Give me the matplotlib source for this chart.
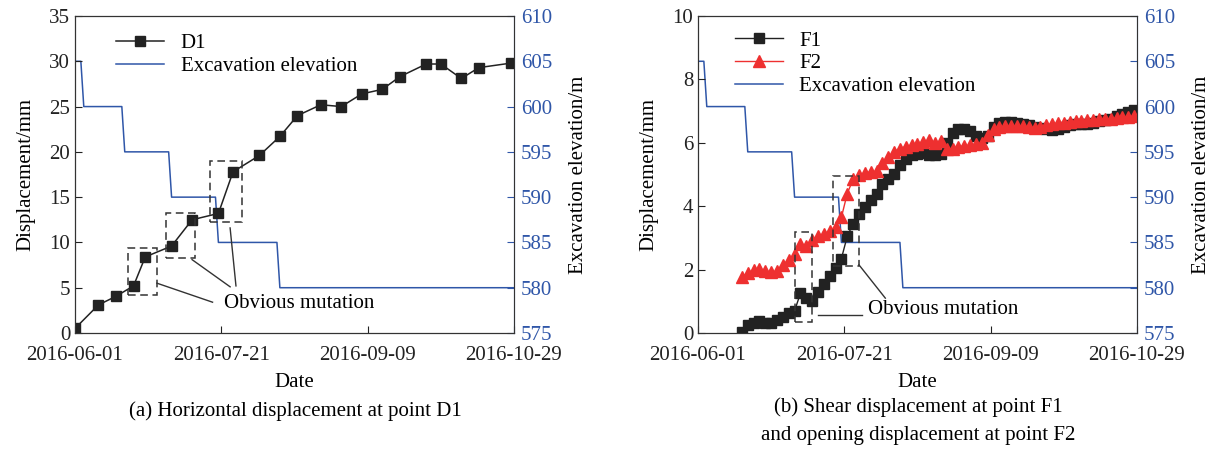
import numpy as np
import pandas as pd
import matplotlib
matplotlib.use("Agg")
import matplotlib.pyplot as plt
import matplotlib.dates as mdates
from matplotlib.patches import Rectangle

plt.rcParams["font.family"] = ["Liberation Serif", "DejaVu Serif"]
plt.rcParams["font.size"] = 15

# ---- data ----
d1_dates = ["2016-06-01", "2016-06-09", "2016-06-15", "2016-06-21", "2016-06-25",
            "2016-07-04", "2016-07-11", "2016-07-20", "2016-07-25", "2016-08-03",
            "2016-08-10", "2016-08-16", "2016-08-24", "2016-08-31", "2016-09-07",
            "2016-09-14", "2016-09-20", "2016-09-29", "2016-10-04", "2016-10-11",
            "2016-10-17", "2016-10-28"]
d1_vals = [0.5, 3.1, 4.05, 5.2, 8.4, 9.6, 12.5, 13.2, 17.8, 19.6, 21.7, 24.0,
           25.2, 25.0, 26.4, 26.9, 28.3, 29.7, 29.7, 28.1, 29.3, 29.8]

elev_dates = ["2016-06-01", "2016-06-03", "2016-06-04", "2016-06-17", "2016-06-18",
              "2016-07-03", "2016-07-04", "2016-07-19", "2016-07-20", "2016-08-09",
              "2016-08-10", "2016-10-29"]
elev_vals = [605, 605, 600, 600, 595, 595, 590, 590, 585, 585, 580, 580]

f_start = "2016-06-16"   # readings every 2 days
f1_vals = [0.02, 0.25, 0.33, 0.38, 0.33, 0.30, 0.40, 0.50, 0.62, 0.70,
           1.25, 1.10, 1.02, 1.30, 1.55, 1.80, 2.05, 2.35, 3.05, 3.45,
           3.75, 3.98, 4.20, 4.40, 4.70, 4.85, 5.02, 5.30, 5.50, 5.60,
           5.65, 5.68, 5.62, 5.60, 5.65, 6.00, 6.32, 6.42, 6.45, 6.38,
           6.22, 6.15, 6.20, 6.50, 6.62, 6.65, 6.65, 6.62, 6.60, 6.55,
           6.50, 6.48, 6.45, 6.40, 6.45, 6.50, 6.55, 6.60, 6.60, 6.58,
           6.62, 6.70, 6.72, 6.75, 6.85, 6.90, 6.98, 7.05]
f2_vals = [1.78, 1.88, 2.00, 2.02, 1.95, 1.92, 1.95, 2.15, 2.30, 2.48,
           2.80, 2.75, 2.92, 3.05, 3.12, 3.22, 3.35, 3.65, 4.40, 4.85,
           4.98, 5.05, 5.08, 5.10, 5.35, 5.55, 5.72, 5.82, 5.88, 5.92,
           5.95, 6.02, 6.08, 5.98, 6.05, 5.82, 5.80, 5.88, 5.90, 5.92,
           5.95, 6.00, 6.25, 6.42, 6.50, 6.52, 6.53, 6.53, 6.52, 6.50,
           6.48, 6.50, 6.55, 6.60, 6.62, 6.64, 6.66, 6.68, 6.70, 6.71,
           6.72, 6.74, 6.75, 6.76, 6.78, 6.80, 6.82, 6.84]

tick_dates = ["2016-06-01", "2016-07-21", "2016-09-09", "2016-10-29"]

d1_x = pd.to_datetime(d1_dates)
elev_x = pd.to_datetime(elev_dates)
f_x = pd.date_range(f_start, periods=len(f1_vals), freq="2D")
ticks = pd.to_datetime(tick_dates)

BLUE = "#2f56a8"
RED = "#ee3030"
BLACK = "#222222"

fig = plt.figure(figsize=(12.16, 4.5), dpi=100)
ax1 = fig.add_axes([75 / 1216, 117 / 450, 439 / 1216, 317 / 450])
ax2 = fig.add_axes([698 / 1216, 117 / 450, 439 / 1216, 317 / 450])


def setup(ax, ylim, yticks):
    tw = ax.twinx()
    ax.set_zorder(tw.get_zorder() + 1)
    ax.patch.set_visible(False)
    tw.plot(elev_x, elev_vals, color=BLUE, lw=1.1, label="Excavation elevation")
    tw.set_ylim(575, 610)
    tw.set_yticks(range(575, 611, 5))
    tw.tick_params(axis="y", direction="in", colors=BLUE, length=5, pad=5)
    tw.spines["right"].set_color(BLUE)
    tw.set_ylabel("Excavation elevation/m", labelpad=12)
    ax.set_xlim(ticks[0], ticks[-1])
    ax.set_xticks(ticks)
    ax.xaxis.set_major_formatter(mdates.DateFormatter("%Y-%m-%d"))
    ax.set_ylim(*ylim)
    ax.set_yticks(yticks)
    ax.tick_params(direction="in", length=5, colors="#222222")
    ax.tick_params(axis="x", pad=9)
    ax.set_xlabel("Date", labelpad=6)
    ax.set_ylabel("Displacement/mm", labelpad=10)
    for s in ax.spines.values():
        s.set_color("#333333")
    return tw


def box(ax, d0, d1, y0, y1):
    x0 = mdates.date2num(pd.Timestamp(d0))
    x1 = mdates.date2num(pd.Timestamp(d1))
    ax.add_patch(Rectangle((x0, y0), x1 - x0, y1 - y0, fill=False,
                           ls=(0, (5, 3)), lw=1.1, ec="#333333", zorder=5))


def leader(ax, da, ya, db, yb):
    ax.plot(pd.to_datetime([da, db]), [ya, yb], color="#333333", lw=1.0)


# ---- panel (a) ----
tw1 = setup(ax1, (0, 35), range(0, 36, 5))
ax1.plot(d1_x, d1_vals, "-s", color=BLACK, lw=1.1, ms=7, label="D1")
box(ax1, "2016-06-19", "2016-06-29", 4.2, 9.4)
box(ax1, "2016-07-02", "2016-07-12", 8.3, 13.3)
box(ax1, "2016-07-17", "2016-07-28", 12.3, 19.0)
leader(ax1, "2016-06-29", 5.5, "2016-07-18", 3.4)
leader(ax1, "2016-07-11", 8.1, "2016-07-24", 5.1)
leader(ax1, "2016-07-24", 11.6, "2016-07-26", 5.2)
ax1.text(pd.Timestamp("2016-07-22"), 3.3, "Obvious mutation", va="center")
h1, l1 = ax1.get_legend_handles_labels()
h2, l2 = tw1.get_legend_handles_labels()
ax1.legend(h1 + h2, l1 + l2, loc="upper left", bbox_to_anchor=(0.06, 0.99),
           frameon=False, handlelength=2.3, numpoints=1, labelspacing=0.15,
           borderaxespad=0.3)

# ---- panel (b) ----
tw2 = setup(ax2, (0, 10), range(0, 11, 2))
ax2.plot(f_x, f1_vals, "-s", color=BLACK, lw=1.0, ms=7, label="F1")
ax2.plot(f_x, f2_vals, "-^", color=RED, lw=1.0, ms=9, label="F2")
box(ax2, "2016-07-04", "2016-07-10", 0.34, 3.2)
box(ax2, "2016-07-17", "2016-07-26", 2.1, 4.96)
leader(ax2, "2016-07-12", 0.57, "2016-07-27", 0.57)
leader(ax2, "2016-07-26", 2.15, "2016-08-04", 1.1)
ax2.text(pd.Timestamp("2016-07-29"), 0.73, "Obvious mutation", va="center")
h1, l1 = ax2.get_legend_handles_labels()
h2, l2 = tw2.get_legend_handles_labels()
ax2.legend(h1 + h2, l1 + l2, loc="upper left", bbox_to_anchor=(0.06, 0.985),
           frameon=False, handlelength=2.3, numpoints=1, labelspacing=0.15,
           borderaxespad=0.1)

fig.text(295 / 1216, 1 - 411 / 450, "(a) Horizontal displacement at point D1",
         ha="center", va="center")
fig.text(918 / 1216, 1 - 421 / 450,
         "(b) Shear displacement at point F1\nand opening displacement at point F2",
         ha="center", va="center", linespacing=1.6)

fig.savefig("out.png", dpi=100)
